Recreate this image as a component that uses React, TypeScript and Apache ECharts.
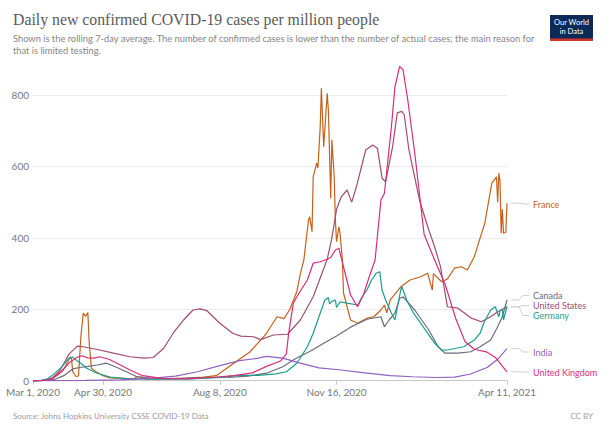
import React, { useEffect, useRef } from "react";
import * as echarts from "echarts";

const xTickDates = ["2020-03-01", "2020-04-30", "2020-08-08", "2020-11-16", "2021-04-11"];
const yTicks = [0, 200, 400, 600, 800];
const monthNames = ["Jan", "Feb", "Mar", "Apr", "May", "Jun", "Jul", "Aug", "Sep", "Oct", "Nov", "Dec"];

const franceDates = ["2020-03-01","2020-03-08","2020-03-15","2020-03-22","2020-03-27","2020-04-01","2020-04-02","2020-04-03","2020-04-04","2020-04-07","2020-04-09","2020-04-11","2020-04-13","2020-04-15","2020-04-17","2020-04-18","2020-04-20","2020-04-24","2020-04-30","2020-05-06","2020-05-20","2020-05-26","2020-05-29","2020-06-02","2020-06-05","2020-06-20","2020-07-10","2020-07-25","2020-08-05","2020-08-20","2020-09-03","2020-09-15","2020-09-17","2020-09-26","2020-10-02","2020-10-07","2020-10-13","2020-10-16","2020-10-19","2020-10-23","2020-10-24","2020-10-26","2020-10-27","2020-10-30","2020-10-31","2020-11-02","2020-11-03","2020-11-05","2020-11-08","2020-11-09","2020-11-11","2020-11-12","2020-11-14","2020-11-15","2020-11-16","2020-11-18","2020-11-19","2020-11-21","2020-11-22","2020-11-28","2020-12-04","2020-12-12","2020-12-18","2020-12-24","2020-12-27","2020-12-29","2021-01-01","2021-01-10","2021-01-18","2021-01-27","2021-02-02","2021-02-06","2021-02-07","2021-02-14","2021-02-19","2021-02-25","2021-03-03","2021-03-08","2021-03-14","2021-03-19","2021-03-23","2021-03-29","2021-04-02","2021-04-03","2021-04-04","2021-04-05","2021-04-06","2021-04-07","2021-04-08","2021-04-10","2021-04-11"];
const franceValues = [0,1,3,15,30,60,67,62,25,11,14,123,189,180,191,113,35,25,14,8,6,4,11,10,4,5,7,10,14,49,81,125,133,179,174,200,250,300,338,450,459,417,571,609,595,711,819,655,805,758,511,674,571,450,389,431,413,338,245,170,161,175,179,198,212,190,226,263,282,291,301,254,300,277,285,315,319,310,347,400,441,553,571,500,581,560,413,480,413,415,497];

const usDates = ["2020-03-01","2020-03-10","2020-03-17","2020-03-24","2020-04-01","2020-04-08","2020-04-13","2020-04-24","2020-05-09","2020-05-23","2020-06-04","2020-06-12","2020-06-21","2020-06-29","2020-07-08","2020-07-16","2020-07-22","2020-07-28","2020-08-08","2020-08-19","2020-08-26","2020-09-06","2020-09-12","2020-09-23","2020-10-05","2020-10-16","2020-10-27","2020-11-08","2020-11-12","2020-11-16","2020-11-20","2020-11-25","2020-11-29","2020-12-03","2020-12-11","2020-12-17","2020-12-21","2020-12-25","2020-12-28","2021-01-03","2021-01-07","2021-01-11","2021-01-13","2021-01-17","2021-01-26","2021-02-03","2021-02-08","2021-02-13","2021-02-19","2021-02-28","2021-03-11","2021-03-20","2021-03-28","2021-04-03","2021-04-11"];
const usValues = [0,1,6,28,75,97,95,88,77,67,63,65,91,133,170,198,201,196,161,133,125,123,115,128,130,170,235,340,400,480,515,534,500,543,646,660,651,567,557,655,750,754,744,646,506,422,375,320,207,203,176,165,179,193,207];

const ukDates = ["2020-03-01","2020-03-10","2020-03-18","2020-03-25","2020-04-01","2020-04-08","2020-04-12","2020-04-17","2020-04-22","2020-04-27","2020-05-05","2020-05-12","2020-05-23","2020-06-03","2020-06-21","2020-07-10","2020-08-01","2020-08-20","2020-09-05","2020-09-17","2020-09-29","2020-10-04","2020-10-06","2020-10-10","2020-10-13","2020-10-22","2020-10-27","2020-11-02","2020-11-08","2020-11-11","2020-11-15","2020-11-18","2020-11-22","2020-11-28","2020-12-04","2020-12-09","2020-12-14","2020-12-19","2020-12-24","2020-12-27","2021-01-02","2021-01-05","2021-01-09","2021-01-12","2021-01-16","2021-01-22","2021-01-30","2021-02-09","2021-02-17","2021-02-26","2021-03-06","2021-03-14","2021-03-25","2021-04-01","2021-04-06","2021-04-11"];
const ukValues = [0,1,6,25,50,66,70,64,63,67,60,49,30,14,6,5,9,14,22,40,55,75,133,217,235,282,329,333,340,345,366,371,319,240,207,240,291,338,506,525,711,823,880,870,786,637,410,330,270,175,110,88,80,65,45,25];

const germanyDates = ["2020-03-01","2020-03-08","2020-03-14","2020-03-20","2020-03-26","2020-04-01","2020-04-04","2020-04-08","2020-04-11","2020-04-16","2020-04-25","2020-05-06","2020-05-20","2020-06-15","2020-07-15","2020-08-10","2020-08-25","2020-09-10","2020-09-25","2020-10-04","2020-10-13","2020-10-22","2020-10-27","2020-11-02","2020-11-06","2020-11-09","2020-11-10","2020-11-12","2020-11-15","2020-11-16","2020-11-19","2020-11-25","2020-12-04","2020-12-08","2020-12-12","2020-12-16","2020-12-20","2020-12-23","2020-12-25","2020-12-28","2021-01-02","2021-01-05","2021-01-10","2021-01-11","2021-01-15","2021-01-21","2021-01-27","2021-02-02","2021-02-08","2021-02-14","2021-02-19","2021-03-05","2021-03-14","2021-03-19","2021-03-22","2021-03-28","2021-04-01","2021-04-04","2021-04-05","2021-04-07","2021-04-08","2021-04-11"];
const germanyValues = [0,1,6,22,40,63,66,55,49,35,21,10,6,4,5,10,15,15,19,25,49,95,133,189,226,233,215,222,226,205,221,217,212,235,254,282,301,305,254,226,189,170,254,263,226,189,161,133,105,86,86,95,114,133,161,198,207,179,195,200,170,207];

const canadaDates = ["2020-03-01","2020-03-12","2020-03-20","2020-03-28","2020-04-04","2020-04-10","2020-04-17","2020-04-25","2020-05-03","2020-05-12","2020-05-20","2020-05-29","2020-06-10","2020-07-01","2020-07-20","2020-08-15","2020-09-01","2020-09-17","2020-10-01","2020-10-12","2020-10-24","2020-11-05","2020-11-16","2020-11-28","2020-12-12","2020-12-24","2020-12-27","2020-12-31","2021-01-05","2021-01-09","2021-01-12","2021-01-22","2021-02-03","2021-02-11","2021-02-17","2021-02-28","2021-03-11","2021-03-19","2021-03-28","2021-04-03","2021-04-07","2021-04-11"];
const canadaValues = [0,1,4,15,33,37,40,44,49,37,25,11,7,6,8,9,13,21,39,62,82,105,125,150,172,179,151,170,189,230,235,198,142,95,77,77,81,95,114,151,179,226];

const indiaDates = ["2020-03-01","2020-04-15","2020-05-15","2020-06-01","2020-06-15","2020-07-01","2020-07-20","2020-08-08","2020-08-25","2020-09-10","2020-09-17","2020-10-01","2020-10-15","2020-11-01","2020-11-20","2020-12-10","2021-01-01","2021-01-20","2021-02-10","2021-02-25","2021-03-10","2021-03-25","2021-04-03","2021-04-11"];
const indiaValues = [0,0.7,2.5,5,8,13,25,42,56,63,68,63,50,36,30,22,14,11,9,10,18,37,60,90];

const seriesDefs = [
  { name: "France", dates: franceDates, values: franceValues, color: "#c4621d", labelY: 204 },
  { name: "Canada", dates: canadaDates, values: canadaValues, color: "#6a6c7e", labelY: 295.5 },
  { name: "United States", dates: usDates, values: usValues, color: "#a14e6c", labelY: 305.5 },
  { name: "Germany", dates: germanyDates, values: germanyValues, color: "#1c9d8c", labelY: 315.5 },
  { name: "India", dates: indiaDates, values: indiaValues, color: "#9160c2", labelY: 352 },
  { name: "United Kingdom", dates: ukDates, values: ukValues, color: "#d92d7c", labelY: 372 },
];

const SANS = "Lato, 'Noto Sans', Arial, sans-serif";
const DAY = 86400000;

function utc(d: string) {
  const [y, m, dd] = d.split("-").map(Number);
  return Date.UTC(y, m - 1, dd);
}
const START = utc(xTickDates[0]);
function dayOf(d: string) {
  return Math.round((utc(d) - START) / DAY);
}
function fmtDay(v: number) {
  const d = new Date(START + Math.round(v) * DAY);
  return monthNames[d.getUTCMonth()] + " " + d.getUTCDate() + ", " + d.getUTCFullYear();
}

export default function App() {
  const ref = useRef<HTMLDivElement>(null);
  useEffect(() => {
    document.body.style.margin = "0";
    const chart = echarts.init(ref.current as HTMLDivElement, null, { renderer: "svg" });
    const tickDays = xTickDates.map(dayOf);
    const staticGraphics: any[] = [
      {
        type: "text", left: 13, top: 11,
        style: { text: "Daily new confirmed COVID-19 cases per million people", fill: "#5a5a5a", font: "15.8px 'Liberation Serif', 'Times New Roman', serif" },
      },
      {
        type: "text", left: 13, top: 34,
        style: { text: "Shown is the rolling 7-day average. The number of confirmed cases is lower than the number of actual cases; the main reason for", fill: "#858585", font: "9.3px " + SANS },
      },
      {
        type: "text", left: 13, top: 45.5,
        style: { text: "that is limited testing.", fill: "#858585", font: "9.3px " + SANS },
      },
      { type: "rect", shape: { x: 550, y: 15, width: 43, height: 26 }, style: { fill: "#0b2a57" } },
      { type: "rect", shape: { x: 550, y: 38.5, width: 43, height: 2.5 }, style: { fill: "#d1342b" } },
      { type: "text", x: 571.5, y: 22.5, style: { text: "Our World", fill: "#ffffff", font: "7.5px " + SANS, align: "center", verticalAlign: "middle" } },
      { type: "text", x: 571.5, y: 31, style: { text: "in Data", fill: "#ffffff", font: "7.5px " + SANS, align: "center", verticalAlign: "middle" } },
      { type: "text", x: 13, y: 416, style: { text: "Source: Johns Hopkins University CSSE COVID-19 Data", fill: "#9a9a9a", font: "8px " + SANS, verticalAlign: "middle" } },
      { type: "text", x: 593, y: 416, style: { text: "CC BY", fill: "#9a9a9a", font: "8px " + SANS, align: "right", verticalAlign: "middle" } },
    ];

    const option: any = {
      animation: false,
      backgroundColor: "#ffffff",
      grid: { left: 33, right: 109, top: 95, bottom: 46.3, containLabel: false },
      xAxis: {
        type: "value",
        min: tickDays[0],
        max: tickDays[tickDays.length - 1],
        axisLine: { show: true, lineStyle: { color: "#c8c8c8", width: 1 } },
        axisTick: { show: true, customValues: tickDays, length: 4, lineStyle: { color: "#c8c8c8" } },
        splitLine: { show: false },
        axisLabel: {
          customValues: tickDays,
          formatter: (v: number) => fmtDay(v),
          color: "#777777",
          fontSize: 10,
          fontFamily: SANS,
          margin: 6,
          hideOverlap: false,
        },
      },
      yAxis: {
        type: "value",
        min: yTicks[0],
        max: yTicks[yTicks.length - 1],
        interval: 200,
        axisLine: { show: false },
        axisTick: { show: false },
        splitLine: { show: true, lineStyle: { color: "#ebebeb", width: 1 } },
        axisLabel: { color: "#777777", fontSize: 10, fontFamily: SANS, margin: 4 },
      },
      series: seriesDefs.map((s) => ({
        name: s.name,
        type: "line",
        clip: false,
        showSymbol: false,
        symbol: "none",
        silent: true,
        lineStyle: { color: s.color, width: 1.2 },
        itemStyle: { color: s.color },
        data: s.dates.map((d, i) => [dayOf(d), s.values[i]]),
      })),
      graphic: staticGraphics,
    };
    chart.setOption(option);

    const labelGraphics: any[] = [];
    seriesDefs.forEach((s) => {
      const li = s.dates.length - 1;
      const p = chart.convertToPixel({ gridIndex: 0 }, [dayOf(s.dates[li]), s.values[li]]) as number[];
      const ex = p[0];
      const ey = p[1];
      labelGraphics.push({
        type: "polyline",
        shape: { points: [[ex + 4, ey], [ex + 12, ey], [ex + 16, s.labelY], [529, s.labelY]] },
        style: { stroke: "#cfcfcf", lineWidth: 1, fill: null },
      });
      labelGraphics.push({
        type: "text", x: 533, y: s.labelY,
        style: { text: s.name, fill: s.color, font: "9px " + SANS, verticalAlign: "middle" },
      });
    });
    chart.setOption({ graphic: staticGraphics.concat(labelGraphics) });

    return () => chart.dispose();
  }, []);
  return <div ref={ref} style={{ width: 616, height: 427 }} />;
}
